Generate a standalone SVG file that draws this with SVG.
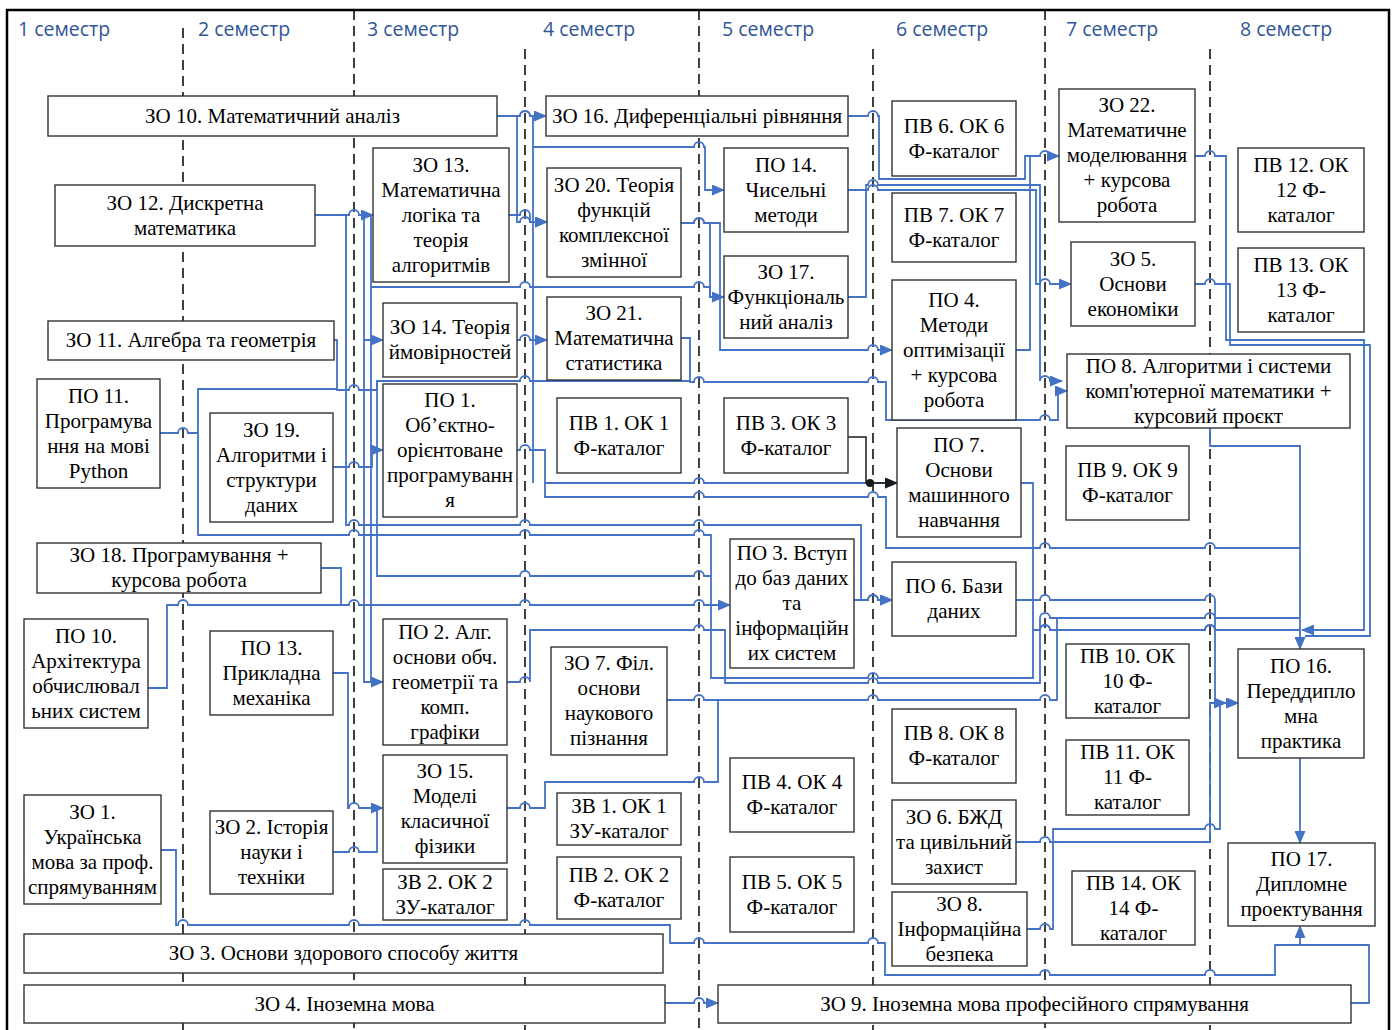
<svg xmlns="http://www.w3.org/2000/svg" width="1393" height="1030" viewBox="0 0 1393 1030">
<defs>
<marker id="arr" markerWidth="13" markerHeight="11" refX="12" refY="5.5" orient="auto" markerUnits="userSpaceOnUse"><path d="M0,0 L13,5.5 L0,11 z" fill="#4472C4"/></marker>
<marker id="arrk" markerWidth="13" markerHeight="11" refX="12" refY="5.5" orient="auto" markerUnits="userSpaceOnUse"><path d="M0,0 L13,5.5 L0,11 z" fill="#1a1a1a"/></marker>
<style>
.bx{fill:#fff;stroke:#333;stroke-width:1.4}
.t{font-family:"Liberation Serif","Times New Roman",serif;font-size:21px;fill:#000;text-anchor:middle}
.sem{font-family:"Open Sans","Noto Sans",sans-serif;font-size:19.5px;fill:#2F5597}
.dl{stroke:#000;stroke-width:1.5;stroke-dasharray:10,6;fill:none}
.c{fill:none;stroke:#4472C4;stroke-width:1.8}
.ca{fill:none;stroke:#4472C4;stroke-width:1.8;marker-end:url(#arr)}
</style>
</defs>
<rect x="0" y="0" width="1393" height="1030" fill="#fff"/>
<rect x="7" y="10" width="1382" height="1030" fill="none" stroke="#000" stroke-width="2.5"/>
<g id="grid">
<path class="dl" d="M183,28 V1030 M354,10 V1030 M525,49 V1030 M699,10 V1030 M873,49 V1030 M1045,10 V1030 M1210,49 V1030"/>
<text class="sem" x="18" y="36">1 семестр</text>
<text class="sem" x="198" y="36">2 семестр</text>
<text class="sem" x="367" y="36">3 семестр</text>
<text class="sem" x="543" y="36">4 семестр</text>
<text class="sem" x="722" y="36">5 семестр</text>
<text class="sem" x="896" y="36">6 семестр</text>
<text class="sem" x="1066" y="36">7 семестр</text>
<text class="sem" x="1240" y="36">8 семестр</text>
</g>
<g id="connectors">
<path class="ca" d="M497,116 H520 a5,5 0 0 1 10,0 H546"/>
<path class="ca" d="M497,116 H520 a5,5 0 0 1 10,0 H533 V147 H694 a5,5 0 0 1 10,0 H705 V190 H724"/>
<path class="ca" d="M517,116 V222 H520 a5,5 0 0 1 10,0 H547"/>
<path class="ca" d="M509,215 H520 a5,5 0 0 1 10,0 V222 H547"/>
<path class="ca" d="M315,215 H349 a5,5 0 0 1 10,0 H373"/>
<path class="ca" d="M346,215 V525 H349 a5,5 0 0 1 10,0 H520 a5,5 0 0 1 10,0 H694 a5,5 0 0 1 10,0 H861 V600 H868 a5,5 0 0 1 10,0 H892"/>
<path class="ca" d="M364,215 V340 H383"/>
<path class="ca" d="M371,215 V287 H520 a5,5 0 0 1 10,0 H694 a5,5 0 0 1 10,0 H710 V297 H724"/>
<path class="c" d="M681,223 H694 a5,5 0 0 1 10,0 H710 V297"/>
<path class="ca" d="M681,223 H694 a5,5 0 0 1 10,0 H720 V350 H868 a5,5 0 0 1 10,0 H892"/>
<path class="ca" d="M517,340 H520 a5,5 0 0 1 10,0 H547"/>
<path class="ca" d="M681,338 H690 V382 H694 a5,5 0 0 1 10,0 H868 a5,5 0 0 1 10,0 H886 V420 H1040 a5,5 0 0 1 10,0 H1058 V391 H1067"/>
<path class="c" d="M334,340 H337 V390 H349 a5,5 0 0 1 10,0 H377 V381 H520 a5,5 0 0 1 10,0 H690"/>
<path class="c" d="M160,433 H178 a5,5 0 0 1 10,0 H198 V389 H337"/>
<path class="c" d="M198,433 V535 H349 a5,5 0 0 1 10,0 H520 a5,5 0 0 1 10,0 H694 a5,5 0 0 1 10,0 H711 V678 H868 a5,5 0 0 1 10,0 H1033 V630 H1040 a5,5 0 0 1 10,0 H1205 a5,5 0 0 1 10,0 H1300"/>
<path class="ca" d="M333,467 H349 a5,5 0 0 1 10,0 H372 V450 H383"/>
<path class="ca" d="M517,450 H520 a5,5 0 0 1 10,0 H545 V483 H694 a5,5 0 0 1 10,0 H897"/>
<path class="c" d="M533,147 V483"/>
<path class="c" d="M545,483 V497 H694 a5,5 0 0 1 10,0 H868 a5,5 0 0 1 10,0 H886 V548 H1040 a5,5 0 0 1 10,0 H1205 a5,5 0 0 1 10,0 H1300"/>
<path fill="none" stroke="#1a1a1a" stroke-width="1.5" marker-end="url(#arrk)" d="M848,437 H866 V483 H897"/>
<circle cx="870" cy="483" r="4" fill="#1a1a1a"/>
<path class="c" d="M1021,483 H1033 V630 H1040 a5,5 0 0 1 10,0 H1205 a5,5 0 0 1 10,0 H1300"/>
<path class="ca" d="M1210,428 V446 H1300 V649"/>
<path class="ca" d="M1195,156 H1205 a5,5 0 0 1 10,0 H1226 V340 H1364 V630 H1302"/>
<path class="c" d="M1195,284 H1205 a5,5 0 0 1 10,0 H1230 V345 H1370 V636 H1305"/>
<path class="ca" d="M848,116 H868 a5,5 0 0 1 10,0 H879 V179 H1025 V156 H1040 a5,5 0 0 1 10,0 H1059"/>
<path class="ca" d="M848,190 H868 a5,5 0 0 1 10,0 H1036 V284 H1040 a5,5 0 0 1 10,0 H1071"/>
<path class="ca" d="M848,297 H866 V185 H868 a5,5 0 0 1 10,0 H1040 V381 a5,5 0 0 1 10,0 H1062"/>
<path class="c" d="M1016,350 H1030 V156"/>
<path class="ca" d="M1016,600 H1040 a5,5 0 0 1 10,0 H1205 a5,5 0 0 1 10,0 V703 H1238"/>
<path class="ca" d="M854,600 H868 a5,5 0 0 1 10,0 H892"/>
<path class="ca" d="M148,688 H167 V605 H178 a5,5 0 0 1 10,0 H349 a5,5 0 0 1 10,0 H520 a5,5 0 0 1 10,0 H694 a5,5 0 0 1 10,0 H730"/>
<path class="c" d="M321,568 H341 V605"/>
<path class="c" d="M377,381 V576 H520 a5,5 0 0 1 10,0 H694 a5,5 0 0 1 10,0 H711"/>
<path class="ca" d="M364,340 V682 H383"/>
<path class="c" d="M371,287 V682"/>
<path class="c" d="M507,682 H520 a5,5 0 0 1 10,0 V630 H694 a5,5 0 0 1 10,0 H725 V683 H868 a5,5 0 0 1 10,0 H1040 V618 a5,5 0 0 1 10,0 H1205 a5,5 0 0 1 10,0 H1300"/>
<path class="c" d="M667,700 H694 a5,5 0 0 1 10,0 H868 a5,5 0 0 1 10,0 H1040 a5,5 0 0 1 10,0 H1057 V618"/>
<path class="c" d="M507,808 H520 a5,5 0 0 1 10,0 H545 V782 H694 a5,5 0 0 1 10,0 H718 V700"/>
<path class="ca" d="M333,673 H348 V808 H349 a5,5 0 0 1 10,0 H383"/>
<path class="c" d="M333,852 H349 a5,5 0 0 1 10,0 H377 V808"/>
<path class="ca" d="M161,850 H176 V925 H178 a5,5 0 0 1 10,0 H349 a5,5 0 0 1 10,0 H520 a5,5 0 0 1 10,0 H670 V943 H694 a5,5 0 0 1 10,0 H868 a5,5 0 0 1 10,0 H885 V975 H1040 a5,5 0 0 1 10,0 H1205 a5,5 0 0 1 10,0 H1275 V945 H1300 V926"/>
<path class="c" d="M1351,1003 H1369 V945 H1300"/>
<path class="ca" d="M665,1003 H694 a5,5 0 0 1 10,0 H718"/>
<path class="ca" d="M1016,842 H1040 a5,5 0 0 1 10,0 H1210 V703 H1238"/>
<path class="ca" d="M1027,929 H1040 a5,5 0 0 1 10,0 H1053 V829 H1205 a5,5 0 0 1 10,0 H1220 V703 H1226"/>
<path class="ca" d="M1300,758 V843"/>
</g>
<g id="n_zo10"><rect class="bx" x="48" y="96" width="449" height="40"/><text class="t"><tspan x="272.5" y="123">ЗО 10. Математичний аналіз</tspan></text></g>
<g id="n_zo16"><rect class="bx" x="546" y="96" width="302" height="40"/><text class="t"><tspan x="697" y="123">ЗО 16. Диференціальні рівняння</tspan></text></g>
<g id="n_pv6"><rect class="bx" x="892" y="101" width="124" height="75"/><text class="t"><tspan x="954" y="133">ПВ 6. ОК 6</tspan><tspan x="954" y="158">Ф-каталог</tspan></text></g>
<g id="n_zo22"><rect class="bx" x="1059" y="89" width="136" height="133"/><text class="t"><tspan x="1127" y="112">ЗО 22.</tspan><tspan x="1127" y="137">Математичне</tspan><tspan x="1127" y="162">моделювання</tspan><tspan x="1127" y="187">+ курсова</tspan><tspan x="1127" y="212">робота</tspan></text></g>
<g id="n_pv12"><rect class="bx" x="1238" y="148" width="126" height="84"/><text class="t"><tspan x="1301" y="171.5">ПВ 12. ОК</tspan><tspan x="1301" y="196.5">12 Ф-</tspan><tspan x="1301" y="221.5">каталог</tspan></text></g>
<g id="n_zo12"><rect class="bx" x="55" y="185" width="260" height="61"/><text class="t"><tspan x="185" y="209.5">ЗО 12. Дискретна</tspan><tspan x="185" y="234.5">математика</tspan></text></g>
<g id="n_zo13"><rect class="bx" x="373" y="148" width="136" height="134"/><text class="t"><tspan x="441" y="171.5">ЗО 13.</tspan><tspan x="441" y="196.5">Математична</tspan><tspan x="441" y="221.5">логіка та</tspan><tspan x="441" y="246.5">теорія</tspan><tspan x="441" y="271.5">алгоритмів</tspan></text></g>
<g id="n_zo20"><rect class="bx" x="547" y="168" width="134" height="109"/><text class="t"><tspan x="614" y="191.5">ЗО 20. Теорія</tspan><tspan x="614" y="216.5">функцій</tspan><tspan x="614" y="241.5">комплексної</tspan><tspan x="614" y="266.5">змінної</tspan></text></g>
<g id="n_po14"><rect class="bx" x="724" y="148" width="124" height="84"/><text class="t"><tspan x="786" y="171.5">ПО 14.</tspan><tspan x="786" y="196.5">Чисельні</tspan><tspan x="786" y="221.5">методи</tspan></text></g>
<g id="n_pv7"><rect class="bx" x="892" y="193" width="124" height="69"/><text class="t"><tspan x="954" y="221.5">ПВ 7. ОК 7</tspan><tspan x="954" y="246.5">Ф-каталог</tspan></text></g>
<g id="n_zo5"><rect class="bx" x="1071" y="242" width="124" height="84"/><text class="t"><tspan x="1133" y="265.5">ЗО 5.</tspan><tspan x="1133" y="290.5">Основи</tspan><tspan x="1133" y="315.5">економіки</tspan></text></g>
<g id="n_pv13"><rect class="bx" x="1238" y="248" width="126" height="84"/><text class="t"><tspan x="1301" y="271.5">ПВ 13. ОК</tspan><tspan x="1301" y="296.5">13 Ф-</tspan><tspan x="1301" y="321.5">каталог</tspan></text></g>
<g id="n_zo17"><rect class="bx" x="724" y="256" width="124" height="82"/><text class="t"><tspan x="786" y="278.5">ЗО 17.</tspan><tspan x="786" y="303.5">Функціональ</tspan><tspan x="786" y="328.5">ний аналіз</tspan></text></g>
<g id="n_po4"><rect class="bx" x="892" y="280" width="124" height="140"/><text class="t"><tspan x="954" y="306.5">ПО 4.</tspan><tspan x="954" y="331.5">Методи</tspan><tspan x="954" y="356.5">оптимізації</tspan><tspan x="954" y="381.5">+ курсова</tspan><tspan x="954" y="406.5">робота</tspan></text></g>
<g id="n_zo11"><rect class="bx" x="48" y="321" width="286" height="39"/><text class="t"><tspan x="191" y="347">ЗО 11. Алгебра та геометрія</tspan></text></g>
<g id="n_zo14"><rect class="bx" x="383" y="303" width="134" height="74"/><text class="t"><tspan x="450" y="334">ЗО 14. Теорія</tspan><tspan x="450" y="359">ймовірностей</tspan></text></g>
<g id="n_zo21"><rect class="bx" x="547" y="297" width="134" height="83"/><text class="t"><tspan x="614" y="320">ЗО 21.</tspan><tspan x="614" y="345">Математична</tspan><tspan x="614" y="370">статистика</tspan></text></g>
<g id="n_po8"><rect class="bx" x="1067" y="354" width="283" height="74"/><text class="t"><tspan x="1208.5" y="372.5">ПО 8. Алгоритми і системи</tspan><tspan x="1208.5" y="397.5">комп'ютерної математики +</tspan><tspan x="1208.5" y="422.5">курсовий проєкт</tspan></text></g>
<g id="n_po11"><rect class="bx" x="37" y="379" width="123" height="109"/><text class="t"><tspan x="98.5" y="402.5">ПО 11.</tspan><tspan x="98.5" y="427.5">Програмува</tspan><tspan x="98.5" y="452.5">ння на мові</tspan><tspan x="98.5" y="477.5">Python</tspan></text></g>
<g id="n_zo19"><rect class="bx" x="210" y="413" width="123" height="109"/><text class="t"><tspan x="271.5" y="436.5">ЗО 19.</tspan><tspan x="271.5" y="461.5">Алгоритми і</tspan><tspan x="271.5" y="486.5">структури</tspan><tspan x="271.5" y="511.5">даних</tspan></text></g>
<g id="n_po1"><rect class="bx" x="383" y="384" width="134" height="133"/><text class="t"><tspan x="450" y="406.5">ПО 1.</tspan><tspan x="450" y="431.5">Об’єктно-</tspan><tspan x="450" y="456.5">орієнтоване</tspan><tspan x="450" y="481.5">програмуванн</tspan><tspan x="450" y="506.5">я</tspan></text></g>
<g id="n_pv1"><rect class="bx" x="557" y="398" width="124" height="75"/><text class="t"><tspan x="619" y="429.5">ПВ 1. ОК 1</tspan><tspan x="619" y="454.5">Ф-каталог</tspan></text></g>
<g id="n_pv3"><rect class="bx" x="724" y="398" width="124" height="75"/><text class="t"><tspan x="786" y="429.5">ПВ 3. ОК 3</tspan><tspan x="786" y="454.5">Ф-каталог</tspan></text></g>
<g id="n_po7"><rect class="bx" x="897" y="428" width="124" height="109"/><text class="t"><tspan x="959" y="451.5">ПО 7.</tspan><tspan x="959" y="476.5">Основи</tspan><tspan x="959" y="501.5">машинного</tspan><tspan x="959" y="526.5">навчання</tspan></text></g>
<g id="n_pv9"><rect class="bx" x="1066" y="446" width="123" height="74"/><text class="t"><tspan x="1127.5" y="477">ПВ 9. ОК 9</tspan><tspan x="1127.5" y="502">Ф-каталог</tspan></text></g>
<g id="n_zo18"><rect class="bx" x="37" y="543" width="284" height="50"/><text class="t"><tspan x="179" y="562">ЗО 18. Програмування +</tspan><tspan x="179" y="587">курсова робота</tspan></text></g>
<g id="n_po3"><rect class="bx" x="730" y="539" width="124" height="129"/><text class="t"><tspan x="792" y="560">ПО 3. Вступ</tspan><tspan x="792" y="585">до баз даних</tspan><tspan x="792" y="610">та</tspan><tspan x="792" y="635">інформаційн</tspan><tspan x="792" y="660">их систем</tspan></text></g>
<g id="n_po6"><rect class="bx" x="892" y="562" width="124" height="74"/><text class="t"><tspan x="954" y="593">ПО 6. Бази</tspan><tspan x="954" y="618">даних</tspan></text></g>
<g id="n_po10"><rect class="bx" x="24" y="619" width="124" height="109"/><text class="t"><tspan x="86" y="642.5">ПО 10.</tspan><tspan x="86" y="667.5">Архітектура</tspan><tspan x="86" y="692.5">обчислювал</tspan><tspan x="86" y="717.5">ьних систем</tspan></text></g>
<g id="n_po13"><rect class="bx" x="210" y="631" width="123" height="84"/><text class="t"><tspan x="271.5" y="654.5">ПО 13.</tspan><tspan x="271.5" y="679.5">Прикладна</tspan><tspan x="271.5" y="704.5">механіка</tspan></text></g>
<g id="n_po2"><rect class="bx" x="383" y="619" width="124" height="126"/><text class="t"><tspan x="445" y="638.5">ПО 2. Алг.</tspan><tspan x="445" y="663.5">основи обч.</tspan><tspan x="445" y="688.5">геометрії та</tspan><tspan x="445" y="713.5">комп.</tspan><tspan x="445" y="738.5">графіки</tspan></text></g>
<g id="n_zo7"><rect class="bx" x="551" y="647" width="116" height="108"/><text class="t"><tspan x="609" y="670">ЗО 7. Філ.</tspan><tspan x="609" y="695">основи</tspan><tspan x="609" y="720">наукового</tspan><tspan x="609" y="745">пізнання</tspan></text></g>
<g id="n_pv10"><rect class="bx" x="1066" y="644" width="123" height="74"/><text class="t"><tspan x="1127.5" y="662.5">ПВ 10. ОК</tspan><tspan x="1127.5" y="687.5">10 Ф-</tspan><tspan x="1127.5" y="712.5">каталог</tspan></text></g>
<g id="n_po16"><rect class="bx" x="1238" y="649" width="126" height="109"/><text class="t"><tspan x="1301" y="672.5">ПО 16.</tspan><tspan x="1301" y="697.5">Переддипло</tspan><tspan x="1301" y="722.5">мна</tspan><tspan x="1301" y="747.5">практика</tspan></text></g>
<g id="n_pv8"><rect class="bx" x="892" y="709" width="124" height="74"/><text class="t"><tspan x="954" y="740">ПВ 8. ОК 8</tspan><tspan x="954" y="765">Ф-каталог</tspan></text></g>
<g id="n_pv11"><rect class="bx" x="1066" y="740" width="123" height="75"/><text class="t"><tspan x="1127.5" y="759">ПВ 11. ОК</tspan><tspan x="1127.5" y="784">11 Ф-</tspan><tspan x="1127.5" y="809">каталог</tspan></text></g>
<g id="n_zo15"><rect class="bx" x="383" y="755" width="124" height="108"/><text class="t"><tspan x="445" y="778">ЗО 15.</tspan><tspan x="445" y="803">Моделі</tspan><tspan x="445" y="828">класичної</tspan><tspan x="445" y="853">фізики</tspan></text></g>
<g id="n_pv4"><rect class="bx" x="730" y="758" width="124" height="74"/><text class="t"><tspan x="792" y="789">ПВ 4. ОК 4</tspan><tspan x="792" y="814">Ф-каталог</tspan></text></g>
<g id="n_zo1"><rect class="bx" x="24" y="795" width="137" height="109"/><text class="t"><tspan x="92.5" y="818.5">ЗО 1.</tspan><tspan x="92.5" y="843.5">Українська</tspan><tspan x="92.5" y="868.5">мова за проф.</tspan><tspan x="92.5" y="893.5">спрямуванням</tspan></text></g>
<g id="n_zo2"><rect class="bx" x="210" y="811" width="123" height="83"/><text class="t"><tspan x="271.5" y="834">ЗО 2. Історія</tspan><tspan x="271.5" y="859">науки і</tspan><tspan x="271.5" y="884">техніки</tspan></text></g>
<g id="n_zv1"><rect class="bx" x="557" y="793" width="124" height="52"/><text class="t"><tspan x="619" y="813">ЗВ 1. ОК 1</tspan><tspan x="619" y="838">ЗУ-каталог</tspan></text></g>
<g id="n_zo6"><rect class="bx" x="892" y="800" width="124" height="84"/><text class="t"><tspan x="954" y="823.5">ЗО 6. БЖД</tspan><tspan x="954" y="848.5">та цивільний</tspan><tspan x="954" y="873.5">захист</tspan></text></g>
<g id="n_po17"><rect class="bx" x="1228" y="843" width="147" height="83"/><text class="t"><tspan x="1301.5" y="866">ПО 17.</tspan><tspan x="1301.5" y="891">Дипломне</tspan><tspan x="1301.5" y="916">проектування</tspan></text></g>
<g id="n_zv2"><rect class="bx" x="383" y="869" width="124" height="51"/><text class="t"><tspan x="445" y="888.5">ЗВ 2. ОК 2</tspan><tspan x="445" y="913.5">ЗУ-каталог</tspan></text></g>
<g id="n_pv2"><rect class="bx" x="557" y="857" width="124" height="62"/><text class="t"><tspan x="619" y="882">ПВ 2. ОК 2</tspan><tspan x="619" y="907">Ф-каталог</tspan></text></g>
<g id="n_pv5"><rect class="bx" x="730" y="857" width="124" height="75"/><text class="t"><tspan x="792" y="888.5">ПВ 5. ОК 5</tspan><tspan x="792" y="913.5">Ф-каталог</tspan></text></g>
<g id="n_pv14"><rect class="bx" x="1072" y="871" width="123" height="74"/><text class="t"><tspan x="1133.5" y="889.5">ПВ 14. ОК</tspan><tspan x="1133.5" y="914.5">14 Ф-</tspan><tspan x="1133.5" y="939.5">каталог</tspan></text></g>
<g id="n_zo8"><rect class="bx" x="892" y="892" width="135" height="74"/><text class="t"><tspan x="959.5" y="910.5">ЗО 8.</tspan><tspan x="959.5" y="935.5">Інформаційна</tspan><tspan x="959.5" y="960.5">безпека</tspan></text></g>
<g id="n_zo3"><rect class="bx" x="24" y="934" width="639" height="39"/><text class="t"><tspan x="343.5" y="960">ЗО 3. Основи здорового способу життя</tspan></text></g>
<g id="n_zo4"><rect class="bx" x="24" y="985" width="641" height="38"/><text class="t"><tspan x="344.5" y="1010.5">ЗО 4. Іноземна мова</tspan></text></g>
<g id="n_zo9"><rect class="bx" x="718" y="985" width="633" height="38"/><text class="t"><tspan x="1034.5" y="1010.5">ЗО 9. Іноземна мова професійного спрямування</tspan></text></g>
</svg>
